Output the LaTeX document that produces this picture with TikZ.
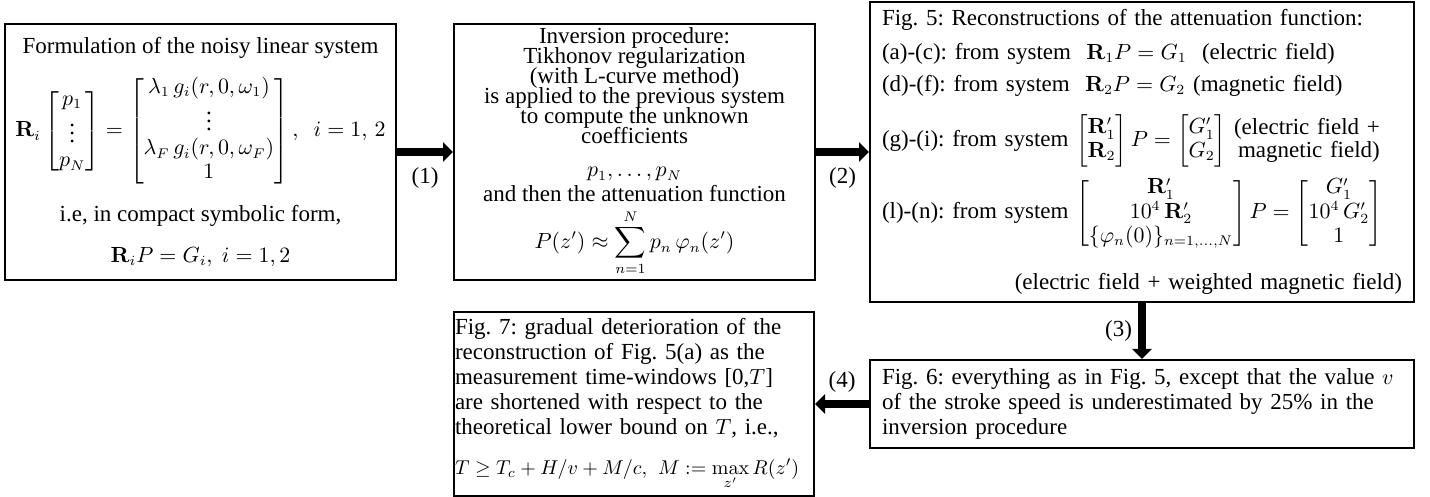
\documentclass[tikz,border=0pt]{standalone}
\usepackage{amsmath}
\usepackage[no-math]{fontspec}
\setmainfont{Liberation Serif}
\DeclareMathSizes{11.5}{10.5}{7.5}{5.5}
\frenchspacing
\usepackage{tikz}
\usetikzlibrary{
    arrows.meta,
    positioning
}
\newcommand\tightlines{\fontsize{11.5}{10}\selectfont\lineskiplimit=-20pt\relax}

\begin{document}
\begin{tikzpicture}[
    x=0.5pt, y=-0.5pt,
    block/.style={
        rectangle,
        draw,
        line width=1pt,
        align=center,
        inner sep=0pt,
        font=\fontsize{11.5}{12}\selectfont
    },
    steplabel/.style={
        inner sep=0pt,
        font=\fontsize{11.5}{12}\selectfont
    },
    arrow/.style={
        -{Triangle[length=5pt,width=9.5pt]},
        line width=4pt
    }
]

\useasboundingbox (0,0) rectangle (1430,497);

\node[block, minimum width=195.5pt, minimum height=128pt] (system) at (200.5,152) {%
    Formulation of the noisy linear system\\[8pt]
    $\mathbf{R}_i
    \begin{bmatrix} p_1\\ \vdots\\ p_N \end{bmatrix}
    =
    \begin{bmatrix} \lambda_1\, g_i(r,0,\omega_1)\\ \vdots\\ \lambda_F\, g_i(r,0,\omega_F)\\ 1 \end{bmatrix},
    \enskip i=1,\,2$\\[8.5pt]
    i.e, in compact symbolic form,\\[8.5pt]
    $\mathbf{R}_iP=G_i,\ i=1,2$};
\node[block, minimum width=180.5pt, minimum height=128pt, right=28pt of system,
      font=\tightlines] (inversion) {%
    Inversion procedure:\\
    Tikhonov regularization\\
    (with L-curve method)\\
    is applied to the previous system\\
    to compute the unknown\\
    coefficients\\[6.5pt]
    $p_1,\dots,p_N$\\[2.5pt]
    and then the attenuation function\\[13.5pt]
    $\displaystyle P(z')\approx\sum_{n=1}^{N}p_n\,\varphi_n(z')$};
\node[block, minimum width=272pt, minimum height=150pt, right=26.5pt of inversion,
      text width=260pt, align=left] (recon) {%
    Fig. 5: Reconstructions of the attenuation function:\\[5pt]
    (a)-(c): from system \ $\mathbf{R}_1P=G_1$ \ (electric field)\\[4pt]
    (d)-(f): from system \ $\mathbf{R}_2P=G_2$ (magnetic field)\\[8pt]
    (g)-(i): from system $\begin{bmatrix}\mathbf{R}_1'\\ \mathbf{R}_2\end{bmatrix} P=\begin{bmatrix}G_1'\\ G_2\end{bmatrix}$
    {\renewcommand\arraystretch{0.85}\begin{tabular}[c]{@{}r@{}}(electric field +\\ magnetic field)\end{tabular}}\\[4pt]
    (l)-(n): from system $\begin{bmatrix}\mathbf{R}_1'\\ 10^4\,\mathbf{R}_2'\\ \{\varphi_n(0)\}_{n=1,\dots,N}\end{bmatrix} P=\begin{bmatrix}G_1'\\ 10^4\,G_2'\\ 1\end{bmatrix}$\\[11pt]
    \hspace*{\fill}(electric field + weighted magnetic field)};
\node[block, minimum width=272pt, minimum height=44pt, below=28pt of recon,
      text width=260pt, align=left, font=\fontsize{11.5}{12.5}\selectfont] (speed) {%
    Fig. 6: everything as in Fig. 5, except that the value $v$\\
    of the stroke speed is underestimated by 25\% in the\\
    inversion procedure};
\node[block, minimum width=180pt, minimum height=92pt, left=27pt of speed,
      text width=179pt, align=left, font=\fontsize{11.5}{12.5}\selectfont] (window) {%
    Fig. 7: gradual deterioration of the\\
    reconstruction of Fig. 5(a) as the\\
    measurement time-windows [0,$T$]\\
    are shortened with respect to the\\
    theoretical lower bound on $T$, i.e.,\\[7.5pt]
    {\fontsize{10}{12}\selectfont$\displaystyle T\geq T_c+H/v+M/c,\ M:=\max_{z'}R(z')$}};

% Flujo de figuras
\draw[arrow] (system) -- node[steplabel, below=6pt]{(1)} (inversion);
\draw[arrow] (inversion) -- node[steplabel, below=6pt]{(2)} (recon);
\draw[arrow] (recon) -- node[steplabel, left=3pt]{(3)} (speed);
\draw[arrow] (speed) -- node[steplabel, above=4pt]{(4)} (window);

\end{tikzpicture}
\end{document}
